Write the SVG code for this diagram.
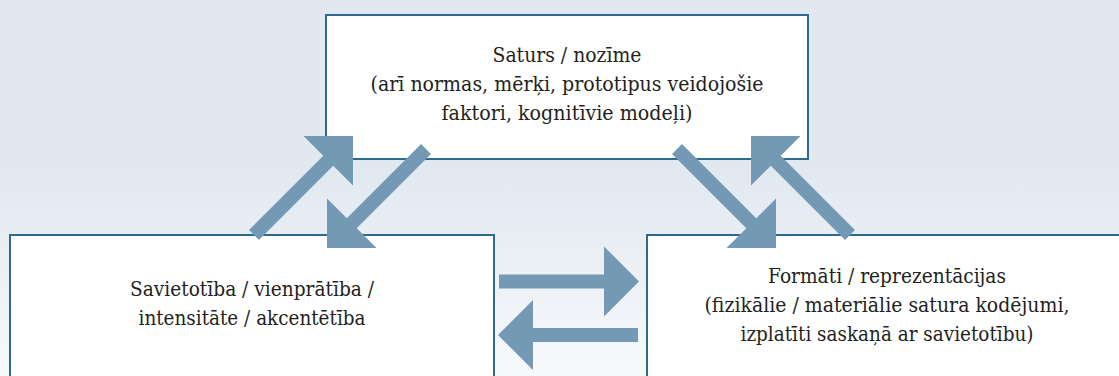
<svg xmlns="http://www.w3.org/2000/svg" width="1119" height="376" viewBox="0 0 1119 376">
<defs>
<linearGradient id="bg" x1="0" y1="0" x2="0" y2="1">
<stop offset="0" stop-color="#e1e8f0"/>
<stop offset="0.44" stop-color="#e1e8f0"/>
<stop offset="1" stop-color="#f7f9fb"/>
</linearGradient>
<path id="arr" d="M-140,-7 H-35 V-35 L0,0 L-35,35 V7 H-140 Z"/>
<style>
.box{fill:#ffffff;stroke:#2d6a8e;stroke-width:2}
.t{font-family:"DejaVu Serif",serif;font-size:21px;fill:#231f20;text-anchor:middle}
.arrow{fill:#7399b5}
</style>
</defs>
<rect x="0" y="0" width="1119" height="376" fill="url(#bg)"/>
<g id="node-top">
<rect class="box" x="326" y="15" width="482" height="144"/>
<text class="t" x="567" y="62" textLength="149" lengthAdjust="spacingAndGlyphs">Saturs / nozīme</text>
<text class="t" x="567" y="91" textLength="393" lengthAdjust="spacingAndGlyphs">(arī normas, mērķi, prototipus veidojošie</text>
<text class="t" x="567" y="120" textLength="251" lengthAdjust="spacingAndGlyphs">faktori, kognitīvie modeļi)</text>
</g>
<g id="node-left">
<rect class="box" x="10" y="235" width="484" height="160"/>
<text class="t" x="252" y="296" textLength="244" lengthAdjust="spacingAndGlyphs">Savietotība / vienprātība /</text>
<text class="t" x="252" y="325" textLength="227" lengthAdjust="spacingAndGlyphs">intensitāte / akcentētība</text>
</g>
<g id="node-right">
<rect class="box" x="647" y="235" width="490" height="160"/>
<text class="t" x="887" y="283" textLength="238" lengthAdjust="spacingAndGlyphs">Formāti / reprezentācijas</text>
<text class="t" x="887" y="312" textLength="365" lengthAdjust="spacingAndGlyphs">(fizikālie / materiālie satura kodējumi,</text>
<text class="t" x="887" y="341" textLength="293" lengthAdjust="spacingAndGlyphs">izplatīti saskaņā ar savietotību)</text>
</g>
<g id="connectors" class="arrow">
<use href="#arr" transform="translate(353,136) rotate(-45)"/>
<use href="#arr" transform="translate(327,248) rotate(135)"/>
<use href="#arr" transform="translate(776,248) rotate(45)"/>
<use href="#arr" transform="translate(751,136) rotate(-135)"/>
<use href="#arr" transform="translate(639,281.5)"/>
<use href="#arr" transform="translate(498,335) rotate(180)"/>
</g>
</svg>
